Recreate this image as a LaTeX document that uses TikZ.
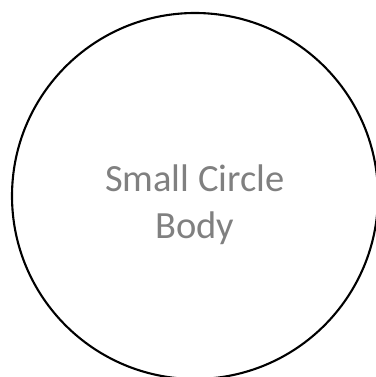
\documentclass[tikz,border=0pt]{standalone}
\usepackage{fontspec}
\setmainfont{Carlito}
\usepackage{tikz}
\usetikzlibrary{positioning}

\begin{document}
\begin{tikzpicture}[x=1pt,y=1pt]
\useasboundingbox (0,0) rectangle (375,377);
\node (body) [circle, draw, line width=2.1pt, minimum size=366pt, inner sep=0pt] at (195,181) {};
\node (name) [align=center, text=gray, font=\fontsize{38.5}{47}\selectfont] at ([yshift=-9pt]body.center) {Small Circle \\ Body};
\end{tikzpicture}
\end{document}
